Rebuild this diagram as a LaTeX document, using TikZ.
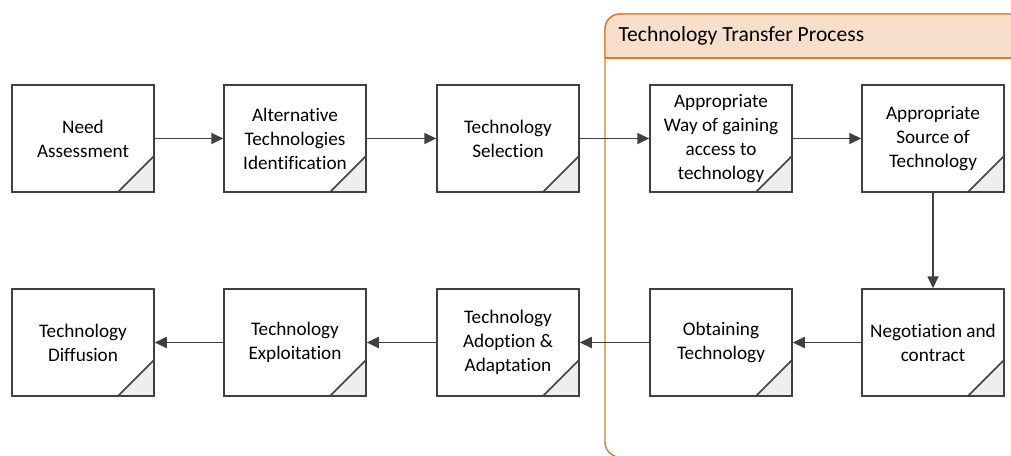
\documentclass[tikz,border=0pt]{standalone}
\usepackage{fontspec}
\setmainfont{Carlito}[Ligatures={NoCommon}]
\usetikzlibrary{arrows.meta}
\definecolor{edge}{HTML}{404040}
\definecolor{fold}{HTML}{EEEEEE}
\definecolor{grp}{HTML}{DE7A2C}
\definecolor{grpfill}{HTML}{F8DFCC}
\tikzset{
  stepbox/.style={draw=edge, line width=1.5pt, fill=white,
    minimum width=142pt, minimum height=107pt, inner sep=0pt,
    align=center, font=\fontsize{19.2}{24}\selectfont,
    path picture={
      \fill[fold] (path picture bounding box.south east) -- ++(-36pt,0pt) -- ++(36pt,36pt) -- cycle;
      \draw[edge, line width=1.5pt] (path picture bounding box.south east) ++(-36pt,0pt) -- ++(36pt,36pt);
    }},
  flow/.style={draw=edge, line width=1.8pt, -{Triangle[length=12pt,width=11pt]}},
}
\begin{document}
\begin{tikzpicture}[x=1pt,y=-1pt]
\useasboundingbox (0,0) rectangle (1011,455);
\begin{scope}
\clip (0,0) rectangle (1011,455);
% transfer-process group
\draw[grp, line width=1.4pt, fill=white, rounded corners=15pt] (605,14) rectangle (1024,457);
\begin{scope}
\clip[rounded corners=15pt] (605,14) rectangle (1024,457);
\fill[grpfill] (605,14) rectangle (1024,58);
\end{scope}
\draw[grp, line width=1.4pt, rounded corners=15pt] (605,58) -- (605,14) -- (1024,14);
\draw[grp, line width=1.4pt] (605,58) -- (1024,58);
\end{scope}
\node[anchor=west, font=\fontsize{21.6}{24}\selectfont] (grptitle) at (615,36) {Technology Transfer Process};

% first row
\node[stepbox] (need) at (83,138.5) {Need\\Assessment};
\node[stepbox] (alt) at (295,138.5) {Alternative\\Technologies\\Identification};
\node[stepbox] (sel) at (508,138.5) {Technology\\Selection};
\node[stepbox] (way) at (721,138.5) {Appropriate\\Way of gaining\\access to\\technology};
\node[stepbox] (src) at (933,138.5) {Appropriate\\Source of\\Technology};

% second row
\node[stepbox] (diff) at (83,342.5) {Technology\\Diffusion};
\node[stepbox] (expl) at (295,342.5) {Technology\\Exploitation};
\node[stepbox] (adop) at (508,342.5) {Technology\\Adoption \&\\Adaptation};
\node[stepbox] (obt) at (721,342.5) {Obtaining\\Technology};
\node[stepbox] (neg) at (933,342.5) {Negotiation and\\contract};

% connectors
\draw[flow] (need) -- (alt);
\draw[flow] (alt) -- (sel);
\draw[flow] (sel) -- (way);
\draw[flow] (way) -- (src);
\draw[flow] (src) -- (neg);
\draw[flow] (neg) -- (obt);
\draw[flow] (obt) -- (adop);
\draw[flow] (adop) -- (expl);
\draw[flow] (expl) -- (diff);
\end{tikzpicture}
\end{document}
